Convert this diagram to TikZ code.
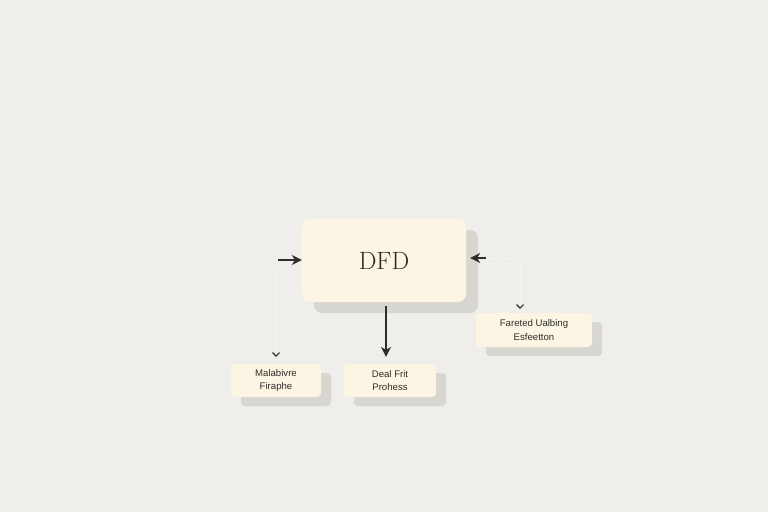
\documentclass[tikz,border=0pt]{standalone}
\usepackage{fontspec}
\setsansfont{Liberation Sans}
\usetikzlibrary{arrows.meta,shadows}
\definecolor{bgc}{HTML}{EFEEEA}
\definecolor{boxc}{HTML}{FCF5E4}
\definecolor{shc}{HTML}{D8D6D1}
\definecolor{inkc}{HTML}{2E2D29}
\definecolor{faintc}{HTML}{F8F8F4}
\tikzset{
  mainbox/.style={fill=boxc, rounded corners=8pt, minimum width=164pt, minimum height=83pt,
    inner sep=0pt, font=\fontsize{25}{28}\selectfont, text=inkc,
    drop shadow={shadow xshift=12pt, shadow yshift=-11pt, fill=shc, opacity=1}},
  smallbox/.style={fill=boxc, rounded corners=4pt, minimum height=33pt, inner sep=0pt,
    align=center, font=\sffamily\fontsize{9.6}{13.5}\selectfont, text=inkc,
    drop shadow={shadow xshift=10pt, shadow yshift=-9pt, fill=shc, opacity=1}},
  darkarrow/.style={draw=inkc, line width=1.3pt, -{Stealth[length=10pt,width=10pt]}},
  faintline/.style={draw=faintc, line width=0.8pt, densely dotted,
    -{Straight Barb[length=3.5pt,width=7pt,color=inkc,line width=1.1pt]}},
}
\begin{document}
\begin{tikzpicture}[x=1pt,y=-1pt]
\fill[bgc] (0,0) rectangle (768,512);
\useasboundingbox (0,0) rectangle (768,512);
\node[mainbox] (main) at (384,260.5) {DFD};
\node[smallbox, minimum width=90pt] (lbox) at (276,380.5) {Malabivre\\Firaphe};
\node[smallbox, minimum width=92pt] (mbox) at (390,380.5) {Deal Frit\\Prohess};
\node[smallbox, minimum width=116pt, minimum height=34pt] (rbox) at (534,330) {Fareted Ualbing\\Esfeetton};
\coordinate (lin) at (278,260);
\coordinate (ltop) at (276,268);
\coordinate (rin) at (486,258);
\coordinate (rcorner) at (520,258);
\draw[darkarrow] (lin) -- (main.west |- lin);
\draw[darkarrow] (rin) -- ([xshift=4pt]main.east |- rin);
\draw[darkarrow] (main.south -| mbox.north) ++(-4,4) coordinate (mtop) -- ([xshift=-4pt,yshift=7pt]mbox.north);
\draw[faintline] (ltop) -- ([yshift=7pt]lbox.north -| ltop);
\draw[faintline] (rin) -- (rcorner) -- ([yshift=4pt]rbox.north -| rcorner);
\end{tikzpicture}
\end{document}
